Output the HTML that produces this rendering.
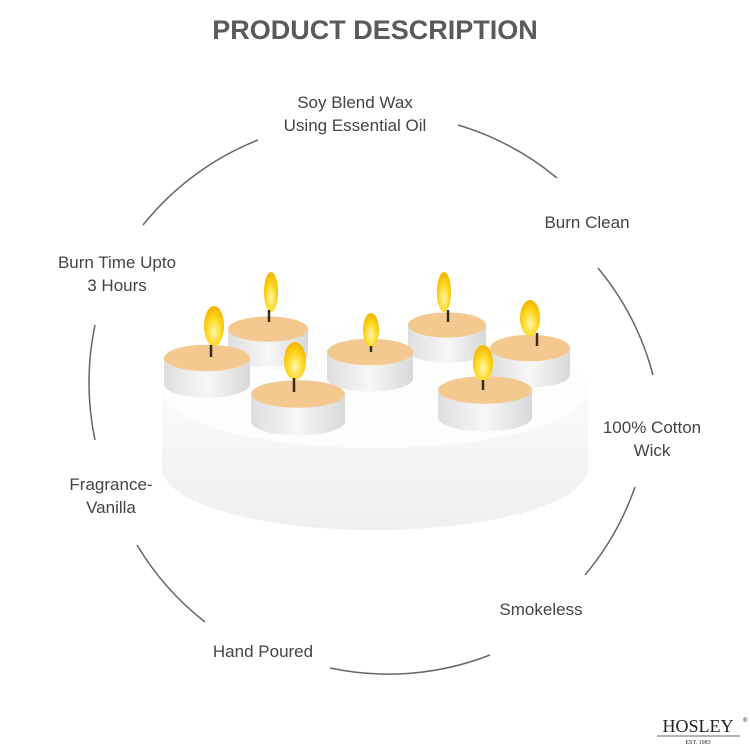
<!DOCTYPE html>
<html><head><style>
body{margin:0;background:#fff}
svg{display:block}
text{font-family:"Liberation Sans",sans-serif;fill:#444}
</style></head><body>
<svg width="750" height="750" viewBox="0 0 750 750" xmlns="http://www.w3.org/2000/svg">
<defs>
<linearGradient id="side" x1="0" x2="1"><stop offset="0" stop-color="#dedede"/><stop offset="0.5" stop-color="#f7f7f7"/><stop offset="1" stop-color="#d8d8d8"/></linearGradient>
<linearGradient id="disc" x1="0" x2="0" y1="0" y2="1"><stop offset="0" stop-color="#fafafa"/><stop offset="1" stop-color="#efefef"/></linearGradient>
<radialGradient id="fl" cx="0.5" cy="0.65" r="0.6"><stop offset="0" stop-color="#fff6b0"/><stop offset="0.6" stop-color="#ffd820"/><stop offset="1" stop-color="#f5b800"/></radialGradient>
<g id="tl">
<path d="M-1,0 V0.6 A1,0.3 0 0 0 1,0.6 V0 Z" fill="url(#side)"/>
<ellipse cx="0" cy="0" rx="1" ry="0.3" fill="#f3c98f"/>
</g>
</defs>
<text x="375" y="39" text-anchor="middle" font-size="27" font-weight="bold" style="fill:#5a5a5a">PRODUCT DESCRIPTION</text>
<g fill="none" stroke="#666" stroke-width="1.5">
<path d="M143,225 A280,280 0 0 1 258,140"/>
<path d="M458,125 A280,280 0 0 1 557,178"/>
<path d="M598,268 A280,280 0 0 1 653,375"/>
<path d="M635,487 A280,280 0 0 1 585,575"/>
<path d="M490,655 A280,280 0 0 1 330,668"/>
<path d="M205,622 A280,280 0 0 1 137,545"/>
<path d="M95,440 A280,280 0 0 1 95,325"/>
</g>
<g font-size="17" text-anchor="middle">
<text x="355" y="108">Soy Blend Wax</text>
<text x="355" y="131">Using Essential Oil</text>
<text x="587" y="228">Burn Clean</text>
<text x="117" y="268">Burn Time Upto</text>
<text x="117" y="291">3 Hours</text>
<text x="652" y="433">100% Cotton</text>
<text x="652" y="456">Wick</text>
<text x="111" y="490">Fragrance-</text>
<text x="111" y="513">Vanilla</text>
<text x="541" y="615">Smokeless</text>
<text x="263" y="657">Hand Poured</text>
</g>
<path d="M162,390 V468 A213,62 0 0 0 588,468 V390 Z" fill="url(#disc)"/>
<ellipse cx="375" cy="390" rx="213" ry="58" fill="#fdfdfd"/>
<g>
<use href="#tl" transform="translate(268,329) scale(40,42)"/>
<use href="#tl" transform="translate(447,325) scale(39,42)"/>
<use href="#tl" transform="translate(207,358) scale(43,44)"/>
<use href="#tl" transform="translate(370,352) scale(43,44)"/>
<use href="#tl" transform="translate(530,348) scale(40,44)"/>
<use href="#tl" transform="translate(298,394) scale(47,46)"/>
<use href="#tl" transform="translate(485,390) scale(47,46)"/>
</g>
<g fill="url(#fl)">
<ellipse cx="271" cy="292" rx="7" ry="20"/>
<ellipse cx="444" cy="292" rx="7" ry="20"/>
<ellipse cx="214" cy="326" rx="10" ry="20"/>
<ellipse cx="371" cy="330" rx="8" ry="17"/>
<ellipse cx="530" cy="318" rx="10" ry="18"/>
<ellipse cx="295" cy="361" rx="11" ry="19"/>
<ellipse cx="483" cy="363" rx="10" ry="18"/>
</g>
<g stroke="#3a2a1a" stroke-width="2.5" fill="none">
<path d="M269,310 v12"/><path d="M448,310 v12"/><path d="M211,345 v12"/>
<path d="M371,346 v6"/><path d="M537,333 v13"/><path d="M294,378 v14"/><path d="M483,380 v10"/>
</g>
<text x="698" y="732" text-anchor="middle" font-size="18" style="font-family:'Liberation Serif',serif;fill:#222">HOSLEY</text>
<text x="743" y="722" font-size="6" style="fill:#222">®</text>
<line x1="657" y1="736" x2="740" y2="736" stroke="#333" stroke-width="0.7"/>
<text x="698" y="744" text-anchor="middle" font-size="6" style="font-family:'Liberation Serif',serif;fill:#222">EST. 1983</text>
</svg>
</body></html>
